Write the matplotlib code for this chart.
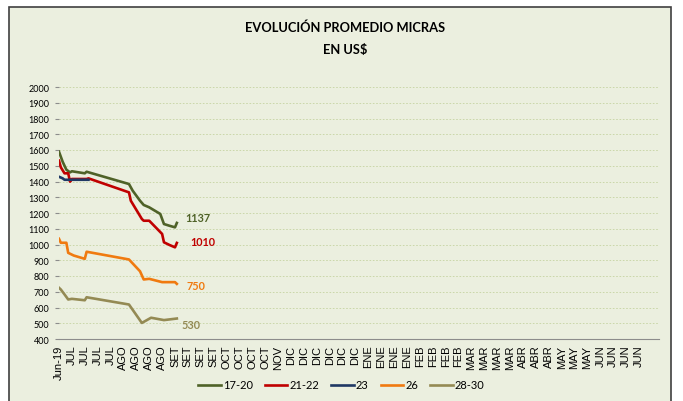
import matplotlib.pyplot as plt
from matplotlib import patches

# Etiquetas semanales del eje X
semanas = (["Jun-19"] + ["JUL"] * 4 + ["AGO"] * 4 + ["SET"] * 4 + ["OCT"] * 4 + ["NOV"]
           + ["DIC"] * 6 + ["ENE"] * 4 + ["FEB"] * 4 + ["MAR"] * 4 + ["ABR"] * 3
           + ["MAY"] * 3 + ["JUN"] * 4)

# Series: dias desde el inicio y precio promedio (US$)
dias_17_20 = [0, 2, 4, 6, 7, 14, 15, 38, 40, 44, 46, 49, 55, 57, 60, 63, 64]
usd_17_20 = [1589, 1525, 1475, 1458, 1465, 1452, 1462, 1384, 1342, 1278, 1251, 1236, 1194,
             1130, 1119, 1109, 1137]

dias_21_22 = [0, 1, 3, 5, 6, 7, 15, 16, 38, 39, 45, 46, 49, 56, 57, 60, 63, 64]
usd_21_22 = [1532, 1490, 1452, 1452, 1399, 1416, 1416, 1420, 1331, 1278, 1162, 1151, 1151,
             1067, 1014, 997, 982, 1010]

dias_23 = [0, 2, 3, 16]
usd_23 = [1430, 1420, 1411, 1411]

dias_26 = [0, 1, 4, 5, 8, 14, 15, 38, 44, 46, 49, 56, 58, 63, 64]
usd_26 = [1036, 1011, 1011, 947, 930, 909, 954, 905, 830, 778, 782, 761, 761, 761, 750]

dias_28_30 = [0, 1, 3, 5, 7, 14, 15, 38, 45, 50, 57, 64]
usd_28_30 = [725, 714, 683, 651, 655, 646, 665, 619, 502, 535, 520, 530]

series = [
    ("17-20", dias_17_20, usd_17_20, "#4F6228", (6, 4)),
    ("21-22", dias_21_22, usd_21_22, "#C00000", (10, 1)),
    ("23", dias_23, usd_23, "#1F3864", None),
    ("26", dias_26, usd_26, "#F07A10", (7, -1)),
    ("28-30", dias_28_30, usd_28_30, "#948A54", (3, -4)),
]

fondo = "#EBEFDF"
fig = plt.figure(figsize=(6.83, 4.02), dpi=100, facecolor="white")
marco = patches.Rectangle((9 / 683, -0.01), 662 / 683, 394 / 402 + 0.01, transform=fig.transFigure,
                          facecolor=fondo, edgecolor="#404040", linewidth=1.2, zorder=-1)
fig.add_artist(marco)

ax = fig.add_axes([59 / 683, 1 - 340 / 402, 600 / 683, 252 / 402])
ax.set_facecolor(fondo)

for nombre, x, y, color, off in series:
    ax.plot(x, y, color=color, linewidth=1.9, label=nombre, solid_joinstyle="round")
    if off is not None:
        ax.annotate(str(y[-1]), (x[-1], y[-1]), xytext=off, textcoords="offset points",
                    color=color, fontsize=7.8, fontweight="bold", family="Lato", va="center")

ax.set_ylim(400, 2000)
ax.set_yticks(range(400, 2001, 100))
ax.set_xlim(0, 46.55 * 7)
ax.set_xticks([7 * i for i in range(len(semanas))])
ax.set_xticklabels(semanas, rotation=90, family="Liberation Sans", fontsize=8)

ax.grid(axis="y", color="#C5D3A2", linestyle=(0, (2, 2)), linewidth=0.6)
ax.set_axisbelow(True)
for lado in ["top", "right", "left"]:
    ax.spines[lado].set_visible(False)
ax.spines["bottom"].set_color("#8C8C8C")
ax.tick_params(axis="x", length=0, pad=4)
ax.tick_params(axis="y", length=3, color="#8C8C8C", pad=4)
for t in ax.get_yticklabels():
    t.set_family("Lato")
    t.set_fontsize(6.5)

fig.text(0.505, 0.93, "EVOLUCIÓN PROMEDIO MICRAS", ha="center", va="center",
         family="Lato", fontweight="bold", fontsize=9.3)
fig.text(0.505, 0.876, "EN US$", ha="center", va="center",
         family="Lato", fontweight="bold", fontsize=9.3)

fig.legend(loc="center", bbox_to_anchor=(0.5, 1 - 386 / 402), ncol=5, frameon=False,
           prop={"family": "Lato", "size": 8}, handlelength=2.0, columnspacing=1.1,
           handletextpad=0.2)

fig.savefig("out.png", dpi=100, facecolor="white")
